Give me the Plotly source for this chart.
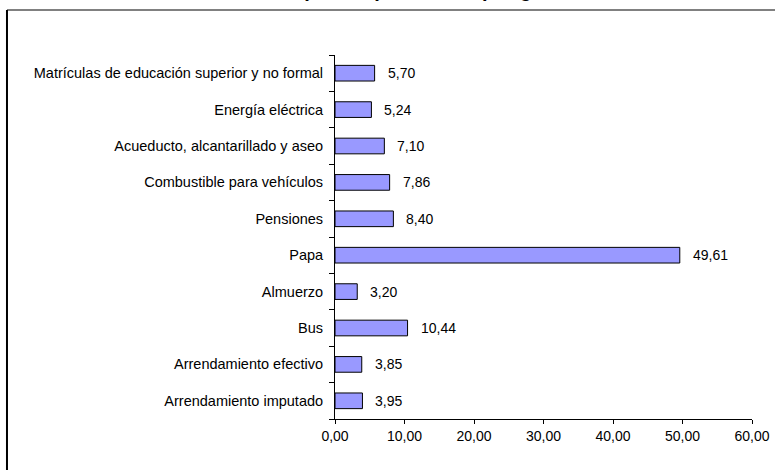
import plotly.graph_objects as go

categories = [
    "Arrendamiento imputado",
    "Arrendamiento efectivo",
    "Bus",
    "Almuerzo",
    "Papa",
    "Pensiones",
    "Combustible para vehículos",
    "Acueducto, alcantarillado y aseo",
    "Energía eléctrica",
    "Matrículas de educación superior y no formal",
]
values = [3.95, 3.85, 10.44, 3.20, 49.61, 8.40, 7.86, 7.10, 5.24, 5.70]
x_ticks = [0, 10, 20, 30, 40, 50, 60]
title_text = "Participación porcentual por gasto"

FONT = "Liberation Sans, Arial, sans-serif"

fig = go.Figure()
fig.add_trace(go.Bar(
    x=values, y=categories, orientation="h",
    marker=dict(color="#9999FF", line=dict(color="#000000", width=1)),
    width=0.43,
    hoverinfo="x+y",
))

annotations = []
for c, v in zip(categories, values):
    annotations.append(dict(
        x=v, y=c, xref="x", yref="y", text=f"{v:.2f}".replace(".", ","),
        showarrow=False, xanchor="left", yanchor="middle", xshift=11,
        font=dict(family=FONT, size=14, color="#000000"),
    ))

# title (partially cut at the top as in reference)
annotations.append(dict(
    x=0.175, y=1.1425, xref="paper", yref="paper", text="<b>" + title_text + "</b>",
    showarrow=False, xanchor="center", yanchor="bottom",
    font=dict(family=FONT, size=20, color="#000000"),
))

shapes = [
    dict(type="line", xref="paper", yref="paper", x0=-0.7866, x1=1.2, y0=1.1236, y1=1.1236,
         line=dict(color="#808080", width=2), layer="above"),
    dict(type="line", xref="paper", yref="paper", x0=-0.7866, x1=-0.7866, y0=1.1236, y1=-0.3,
         line=dict(color="#000000", width=2), layer="above"),
]

fig.update_layout(
    width=775, height=470,
    margin=dict(l=335, r=23, t=55, b=51, autoexpand=False),
    paper_bgcolor="white", plot_bgcolor="white",
    separators=",.",
    showlegend=False,
    font=dict(family=FONT, size=14, color="#000000"),
    annotations=annotations,
    shapes=shapes,
    bargap=0.57,
)
fig.update_xaxes(
    range=[0, 60], tickvals=x_ticks, tickformat=".2f",
    showgrid=False, zeroline=False, automargin=False,
    showline=True, linecolor="#000000", linewidth=1,
    ticks="outside", ticklen=4, tickcolor="#000000",
    tickfont=dict(family=FONT, size=14, color="#000000"),
)
fig.update_yaxes(
    type="category", categoryorder="array", categoryarray=categories,
    showgrid=False, zeroline=False, automargin=False,
    showline=True, linecolor="#000000", linewidth=1,
    ticks="outside", ticklen=5, tickcolor="#000000", tickson="boundaries",
    tickfont=dict(family=FONT, size=14.5, color="#000000"),
    ticklabelstandoff=8,
)

fig.write_html("out.html", config={"displayModeBar": False},
               post_script="document.body.style.margin='0';")
